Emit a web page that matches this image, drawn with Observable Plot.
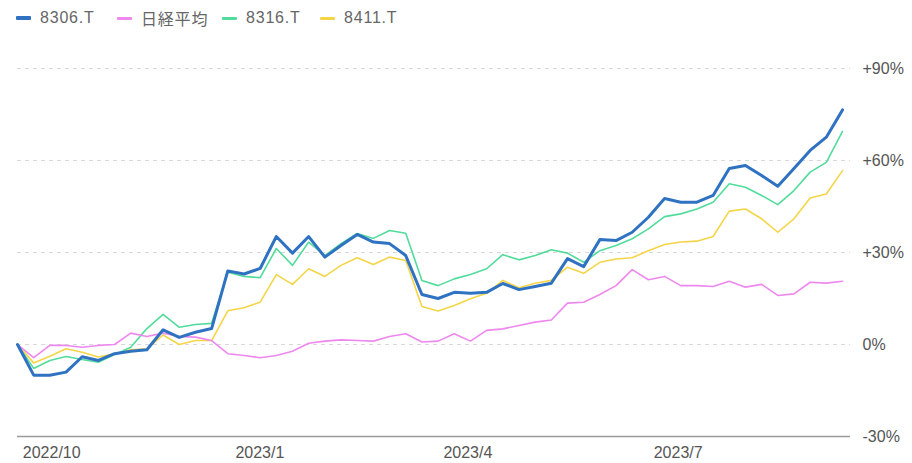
<!DOCTYPE html>
<html><head><meta charset="utf-8">
<script src="https://cdn.jsdelivr.net/npm/d3@7"></script>
<script src="https://cdn.jsdelivr.net/npm/@observablehq/plot@0.6"></script>
<style>
body{margin:0;background:#fff;width:912px;height:463px;overflow:hidden;font-family:"Liberation Sans","Noto Sans CJK JP",sans-serif}
#legend{position:relative;height:36px}
.item{position:absolute;top:8px;height:20px;display:flex;align-items:center;font-size:16px;color:#666;letter-spacing:0.8px;white-space:nowrap}
.sw{display:inline-block;width:15px;height:3px;margin-right:9px;border-radius:1px}
svg{display:block}
</style>
</head><body>
<div id="legend"></div>
<div id="chart"></div>
<script>
const dates = ["2022-09-30","2022-10-07","2022-10-14","2022-10-21","2022-10-28","2022-11-04","2022-11-11","2022-11-18","2022-11-25","2022-12-02","2022-12-09","2022-12-16","2022-12-23","2022-12-30","2023-01-06","2023-01-13","2023-01-20","2023-01-27","2023-02-03","2023-02-10","2023-02-17","2023-02-24","2023-03-03","2023-03-10","2023-03-17","2023-03-24","2023-03-31","2023-04-07","2023-04-14","2023-04-21","2023-04-28","2023-05-05","2023-05-12","2023-05-19","2023-05-26","2023-06-02","2023-06-09","2023-06-16","2023-06-23","2023-06-30","2023-07-07","2023-07-14","2023-07-21","2023-07-28","2023-08-04","2023-08-11","2023-08-18","2023-08-25","2023-09-01","2023-09-08","2023-09-15","2023-09-22"];

const s8306 = [0,-10,-10,-9,-4,-5.2,-3,-2.2,-1.7,4.8,2.3,4,5.2,24,23,24.8,35.2,29.8,35.2,28.5,32.3,35.9,33.4,32.9,29,16.3,15,17,16.7,17,19.9,17.9,18.9,20,28,25.4,34.2,33.9,36.6,41.5,47.6,46.4,46.4,48.6,57.4,58.4,55.1,51.6,57.4,63.3,67.6,76.5];
const nikkei = [0,-4.3,-0.3,-0.3,-0.9,-0.3,0,3.7,2.6,3.7,2.6,2.4,1.3,-3,-3.6,-4.3,-3.6,-2.2,0.4,1.1,1.5,1.3,1.1,2.6,3.5,0.8,1.1,3.5,1.1,4.6,5.1,6.2,7.3,8,13.5,13.8,16.3,19.2,24.4,21.1,22.2,19.2,19.2,18.9,20.6,18.7,19.6,16,16.5,20.3,20,20.6];
const s8316 = [0,-7.8,-5.2,-3.9,-4.9,-5.8,-3.3,-0.9,5.2,9.8,5.6,6.5,6.9,23.6,22.2,21.8,31.3,25.8,33.4,29,32.9,36.2,34.6,37.2,36.3,20.9,19.2,21.4,22.8,24.7,29.3,27.6,29,30.9,29.8,26.8,30.6,32.3,34.5,37.7,41.7,42.6,44.2,46.4,52.4,51.3,48.6,45.6,50.2,56.2,59.4,69.5];
const s8411 = [0,-6,-3.8,-1.4,-2.5,-4.1,-3,-1.7,-1.4,3.1,0,1.3,1.3,11,12,13.8,22.8,19.6,24.7,22.2,25.8,28.3,26.1,28.5,27.4,12.4,10.9,12.7,14.9,16.7,20.9,18.5,20,20.9,25.2,23.2,26.8,27.9,28.3,30.6,32.6,33.4,33.7,35.2,43.5,44.2,41,36.6,41,47.8,49.1,56.7];

const seriesNames = ["8306.T","日経平均","8316.T","8411.T"];
const seriesValues = [s8306, nikkei, s8316, s8411];
const seriesColors = ["#2f72c2","#ee88ee","#52dc9c","#f5d548"];
const seriesWidths = [3, 1.6, 1.6, 1.6];
const drawOrder = [3, 2, 1, 0];

const yTicks = [-30, 0, 30, 60, 90];
const yTickLabels = ["-30%","0%","+30%","+60%","+90%"];
const xTickDates = ["2022-10-01","2023-01-01","2023-04-01","2023-07-01"];
const xTickLabels = ["2022/10","2023/1","2023/4","2023/7"];

// legend
const legendLeft = [16, 117, 222, 320];
const legend = document.getElementById("legend");
seriesNames.forEach((n, i) => {
  const it = document.createElement("div");
  it.className = "item";
  it.style.left = legendLeft[i] + "px";
  const sw = document.createElement("span");
  sw.className = "sw";
  sw.style.background = seriesColors[i];
  sw.style.height = (i === 0 ? 4 : 3) + "px";
  it.appendChild(sw);
  it.appendChild(document.createTextNode(n));
  legend.appendChild(it);
});

const parsed = dates.map(d => new Date(d));
const rows = [];
drawOrder.forEach(k => {
  seriesValues[k].forEach((v, i) => rows.push({date: parsed[i], value: v, name: seriesNames[k], k}));
});
const tickD = xTickDates.map(d => new Date(d));

const font = '"Liberation Sans","Noto Sans CJK JP",sans-serif';
const chart = Plot.plot({
  width: 912, height: 427,
  marginLeft: 17, marginRight: 62, marginTop: 32, marginBottom: 27,
  insetRight: 8,
  x: {type: "utc", domain: [parsed[0], parsed[parsed.length - 1]]},
  y: {domain: [-30, 90]},
  style: {fontFamily: font, fontSize: "16px", color: "#555", background: "white"},
  marks: [
    Plot.ruleY(yTicks.filter(t => t > -30), {stroke: "#d8d8d8", strokeDasharray: "4,4", strokeWidth: 1}),
    Plot.ruleY([-30], {stroke: "#9a9a9a", strokeWidth: 1.5}),
    Plot.axisY({anchor: "right", ticks: yTicks, tickSize: 0, tickPadding: 12, fontSize: 16,
      tickFormat: v => yTickLabels[yTicks.indexOf(v)], label: null}),
    Plot.axisX({ticks: tickD, tickSize: 0, tickPadding: 10, fontSize: 16, textAnchor: "start", dx: 3,
      tickFormat: d => xTickLabels[tickD.findIndex(t => +t === +d)], label: null}),
    ...drawOrder.map(k => Plot.lineY(rows.filter(r => r.k === k), {
      x: "date", y: "value", stroke: seriesColors[k], strokeWidth: seriesWidths[k],
      strokeLinejoin: "round", strokeLinecap: "round"
    }))
  ]
});
document.getElementById("chart").appendChild(chart);
</script>
</body></html>
